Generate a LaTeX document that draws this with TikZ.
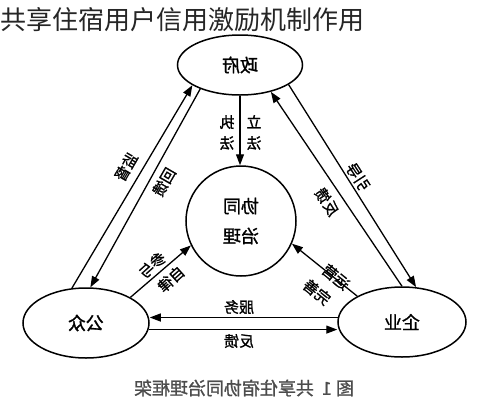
\documentclass[tikz,border=0pt]{standalone}
\usepackage{fontspec}
\newfontfamily\cjk{Noto Sans CJK SC}
\newfontfamily\cjkb[FakeBold=1.2]{Noto Sans CJK SC}
\usetikzlibrary{arrows.meta,shapes.geometric}
\begin{document}
\begin{tikzpicture}[x=1pt,y=-1pt,
  every node/.style={font=\cjkb},
  ell/.style={draw, ellipse, line width=1.5pt, inner sep=0pt, font=\cjkb\fontsize{18}{20}\selectfont},
  con/.style={line width=1.3pt},
  arr/.style={con, -{Triangle[length=11pt,width=8pt]}},
  lab/.style={font=\cjkb\fontsize{15}{21}\selectfont, inner sep=0pt, align=center}]
\useasboundingbox[fill=white] (0,0) rectangle (483,400);
\node[anchor=west, inner sep=0pt, text=black!85, font=\cjk\fontsize{26}{28}\selectfont] (title) at (0,20) {共享住宿用户信用激励机制作用};
\node[ell, minimum width=125pt, minimum height=60pt] (gov) at (240,65) {\reflectbox{政府}};
\node[ell, minimum width=126pt, minimum height=70pt] (pub) at (86,323) {\reflectbox{公众}};
\node[ell, minimum width=128pt, minimum height=70pt] (ent) at (402,322) {\reflectbox{企业}};
\node[draw, circle, line width=1.5pt, minimum size=110pt, inner sep=0pt, align=center, font=\cjkb\fontsize{18}{20}\selectfont] (co) at (241,221) {\reflectbox{协同}\\[10pt]\reflectbox{治理}};
% connectors
\draw[arr] (pub.112) -- (gov.203);
\draw[arr] (gov.211) -- (pub.83);
\draw[arr] (gov.338) -- (ent.68);
\draw[arr] (ent.90) -- (gov.319);
\draw[arr] (gov.south) -- (gov.south |- co.north);
\draw[arr] (pub.30) -- (co.206);
\draw[arr] (ent.150) -- (co.336);
\draw[arr] (ent.176) -- (pub.east |- ent.176);
\draw[arr] (pub.354) -- (ent.west |- pub.354);
% labels
\node[lab] (l1) at (227,132.5) {\reflectbox{执}\\\reflectbox{法}};
\node[lab] (l2) at (254,132.5) {\reflectbox{立}\\\reflectbox{法}};
\node[lab, rotate=60] (l3) at (126,167) {\reflectbox{监督}};
\node[lab, rotate=60] (l4) at (164,182) {\reflectbox{回馈}};
\node[lab, rotate=-57] (l5) at (358,177) {\reflectbox{引导}};
\node[lab, rotate=-57] (l6) at (327,202) {\reflectbox{反馈}};
\node[lab, rotate=42] (l7) at (152,265) {\reflectbox{参与}};
\node[lab, rotate=42] (l8) at (171,279) {\reflectbox{自律}};
\node[lab, rotate=-39] (l9) at (336,277) {\reflectbox{运营}};
\node[lab, rotate=-39] (l10) at (317,292) {\reflectbox{完善}};
\node[lab] (l11) at (239,307) {\reflectbox{服务}};
\node[lab] (l12) at (239,341) {\reflectbox{反馈}};
\node[inner sep=0pt, text=black!70, font=\cjkb\fontsize{18}{20}\selectfont] (cap) at (244,388) {\reflectbox{图 1 \ 共享住宿协同治理框架}};
\end{tikzpicture}
\end{document}
